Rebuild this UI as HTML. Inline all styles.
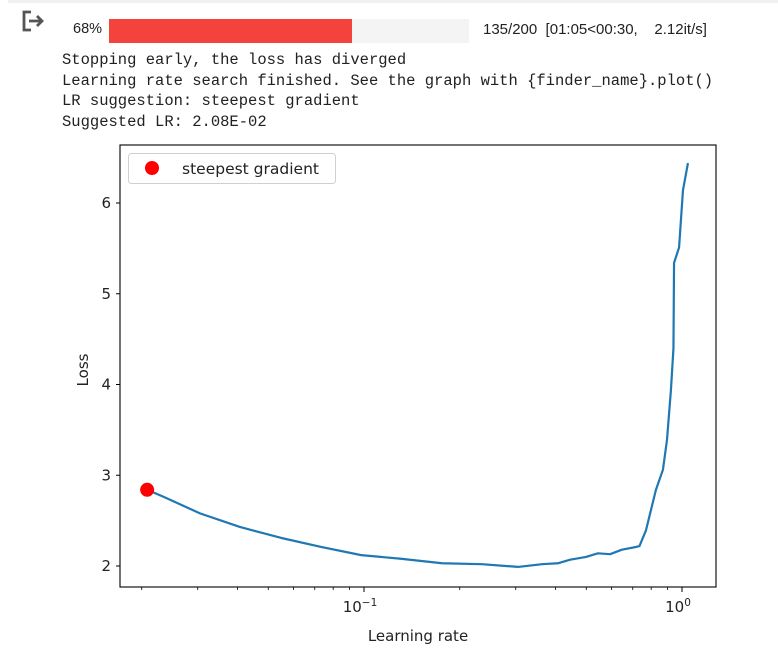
<!DOCTYPE html>
<html><head><meta charset="utf-8"><style>
body{margin:0;width:778px;height:667px;background:#fff;position:relative;overflow:hidden;font-family:"Liberation Sans",sans-serif}
.mono{position:absolute;left:62px;font-family:"Liberation Mono",monospace;font-size:15.5px;color:#212121;white-space:pre;line-height:18px}
</style></head><body>
<div style="position:absolute;left:8px;top:0;width:770px;height:3px;background:#f0f0f0"></div>
<svg style="position:absolute;left:20px;top:9px" width="26" height="24" viewBox="0 0 26 24">
<path d="M11 3H4v18h7" fill="none" stroke="#555" stroke-width="2.8"/>
<path d="M9 12h13M17 7l5 5-5 5" fill="none" stroke="#555" stroke-width="2.8"/></svg>
<div style="position:absolute;left:73px;top:21px;font-size:14.5px;color:#222">68%</div>
<div style="position:absolute;left:109px;top:19px;width:360px;height:24px;background:#f4f4f4"></div>
<div style="position:absolute;left:109px;top:19px;width:243px;height:24px;background:#f4433c"></div>
<div style="position:absolute;left:483px;top:21px;font-size:15px;color:#222;white-space:pre">135/200  [01:05&lt;00:30,    2.12it/s]</div>
<div class="mono" style="top:51px">Stopping early, the loss has diverged</div>
<div class="mono" style="top:72px">Learning rate search finished. See the graph with {finder_name}.plot()</div>
<div class="mono" style="top:92px">LR suggestion: steepest gradient</div>
<div class="mono" style="top:113px">Suggested LR: 2.08E-02</div>
<svg id="chart" style="position:absolute;left:0;top:0" width="778" height="667"></svg>
<script>
const lrs=[0.0208,0.0235,0.0305,0.0407,0.0548,0.0733,0.098,0.1306,0.176,0.235,0.305,0.363,0.407,0.445,0.499,0.544,0.594,0.647,0.717,0.735,0.770,0.828,0.871,0.897,0.923,0.940,0.944,0.979,1.007,1.044];
const losses=[2.84,2.76,2.58,2.43,2.31,2.21,2.12,2.08,2.03,2.02,1.99,2.02,2.03,2.07,2.10,2.14,2.13,2.18,2.21,2.22,2.39,2.84,3.06,3.39,3.94,4.4,5.34,5.51,6.14,6.44];
const suggestLr=[0.0208];
const suggestLoss=[2.84];
const yTicks=[2,3,4,5,6];
const xMajor=[0.1,1];
const xMajorLabels=["10","10"];
const xMajorExp=["−1","0"];
const xMinor=[0.02,0.03,0.04,0.05,0.06,0.07,0.08,0.09,0.2,0.3,0.4,0.5,0.6,0.7,0.8,0.9];
const NS="http://www.w3.org/2000/svg",svg=document.getElementById('chart');
const L=120,R=716,T=145,B=587;
const xs=v=>682+318*Math.log10(v);
const ys=v=>566-90.75*(v-2);
function mk(t,a,p){const e=document.createElementNS(NS,t);for(const k in a)e.setAttribute(k,a[k]);(p||svg).appendChild(e);return e;}
const font='font-family:"DejaVu Sans","Liberation Sans",sans-serif;font-size:15px;fill:#222';
yTicks.forEach(v=>{
 const g=mk('g',{});
 
 
 mk('line',{x1:L-4,x2:L,y1:ys(v),y2:ys(v),stroke:'#000','stroke-width':1},g);
 const t=mk('text',{x:L-9,y:ys(v)+5,'text-anchor':'end',style:font},g);t.textContent=v;
});
xMinor.forEach(v=>{
 const l=mk('line',{x1:xs(v),x2:xs(v),y1:B,y2:B+3,stroke:'#000','stroke-width':0.8});
 
 
});
xMajor.forEach((v,i)=>{
 const g=mk('g',{});
 
 
 mk('line',{x1:xs(v),x2:xs(v),y1:B,y2:B+5,stroke:'#000','stroke-width':1},g);
 const t=mk('text',{x:xs(v)-4,y:B+25,'text-anchor':'middle',style:font},g);
 t.textContent=xMajorLabels[i];
 const s=mk('tspan',{dy:-6,style:'font-size:10.5px'},t);s.textContent=xMajorExp[i];
});
const line=mk('polyline',{points:lrs.map((v,i)=>xs(v)+','+ys(losses[i])).join(' '),fill:'none',stroke:'#1f77b4','stroke-width':2.2,'stroke-linejoin':'round'});


suggestLr.forEach((v,i)=>{
 const c=mk('circle',{cx:xs(v),cy:ys(suggestLoss[i]),r:7,fill:'#ff0000'});
 
 
});
const fr=mk('rect',{x:L,y:T,width:R-L,height:B-T,fill:'none',stroke:'#000','stroke-width':1.1});


const lg=mk('g',{});


mk('rect',{x:128.5,y:153.5,width:207,height:30,rx:3,fill:'#fff',stroke:'#d0d0d0'},lg);
mk('circle',{cx:152,cy:168,r:7,fill:'#ff0000'},lg);
const lt=mk('text',{x:182,y:174,style:'font-family:"DejaVu Sans","Liberation Sans",sans-serif;font-size:15.5px;fill:#222'},lg);lt.textContent='steepest gradient';
const xl=mk('text',{x:418,y:641,'text-anchor':'middle',style:font});xl.textContent='Learning rate';


const yl=mk('text',{x:0,y:0,'text-anchor':'middle',transform:'translate(88,370) rotate(-90)',style:font});yl.textContent='Loss';


</script>
</body></html>
